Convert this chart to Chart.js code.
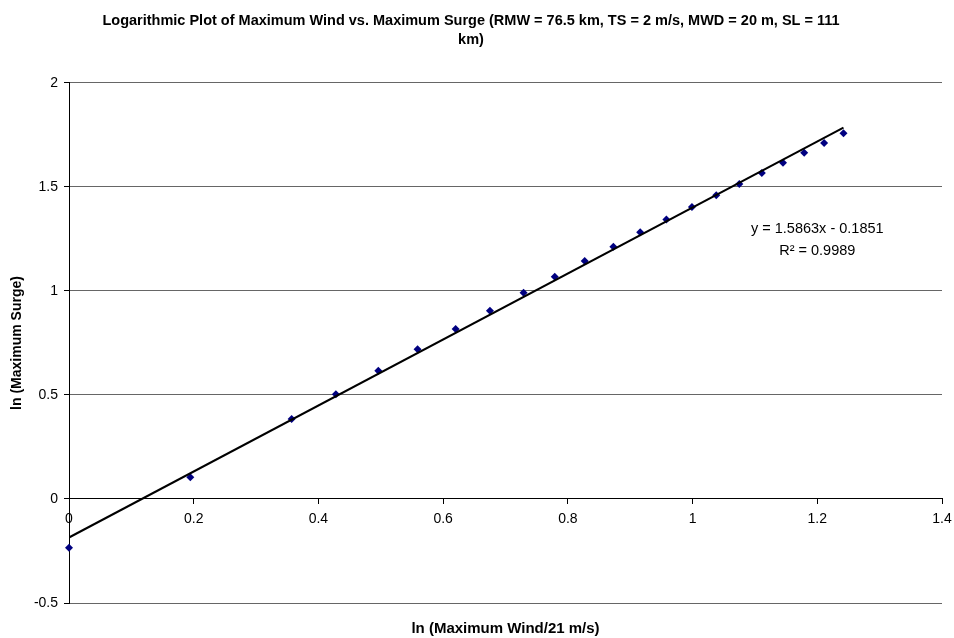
<!DOCTYPE html>
<html>
<head>
<meta charset="utf-8">
<script src="https://cdn.jsdelivr.net/npm/chart.js@4"></script>
<style>
    html, body { margin: 0; padding: 0; background: #fff; }
    #box { width: 954px; height: 638px; }
</style>
</head>
<body>
<div id="box"><canvas id="graficoSurge"></canvas></div>
<script>
// Dados
const lnVento = [0, 0.1945, 0.357, 0.428, 0.496, 0.559, 0.620, 0.675, 0.729, 0.779, 0.827,
    0.873, 0.916, 0.958, 0.999, 1.038, 1.075, 1.111, 1.145, 1.179, 1.211, 1.242];
const lnSurge = [-0.234, 0.104, 0.385, 0.503, 0.617, 0.720, 0.817, 0.905, 0.992, 1.069, 1.144,
    1.213, 1.282, 1.344, 1.404, 1.460, 1.514, 1.567, 1.617, 1.665, 1.712, 1.758];

// Linha de tendência (extremos)
const tendenciaX = [0, 1.242];
const tendenciaY = [-0.1851, 1.7851];

const xTickLabels = ['0', '0.2', '0.4', '0.6', '0.8', '1', '1.2', '1.4'];
const yTickLabels = ['-0.5', '0', '0.5', '1', '1.5', '2'];

const titulo = ['Logarithmic Plot of Maximum Wind vs. Maximum Surge (RMW = 76.5 km, TS = 2 m/s, MWD = 20 m, SL = 111', 'km)'];
const tituloX = 'ln (Maximum Wind/21 m/s)';
const tituloY = 'ln (Maximum Surge)';
const equacao = ['y = 1.5863x - 0.1851', 'R² = 0.9989'];
const equacaoPos = { x: 1.2, y: [1.297, 1.194] };

const fonte = 'Arial, "Liberation Sans", sans-serif';

// Plugin para escrever a equação da tendência
const pluginEquacao = {
    id: 'equacao',
    afterDatasetsDraw(chart) {
        const ctx = chart.ctx;
        const sx = chart.scales.x;
        const sy = chart.scales.y;
        ctx.save();
        ctx.font = '14.5px ' + fonte;
        ctx.fillStyle = '#000';
        ctx.textAlign = 'center';
        ctx.textBaseline = 'middle';
        equacao.forEach((linha, i) => {
            ctx.fillText(linha, sx.getPixelForValue(equacaoPos.x), sy.getPixelForValue(equacaoPos.y[i]));
        });
        ctx.restore();
    }
};

const ctx = document.getElementById('graficoSurge').getContext('2d');

new Chart(ctx, {
    type: 'scatter',
    data: {
        datasets: [{
            label: 'Surge',
            data: lnVento.map((x, i) => ({ x: x, y: lnSurge[i] })),
            pointStyle: 'rectRot',
            pointRadius: 4,
            backgroundColor: '#000080',
            borderColor: '#000080',
            borderWidth: 0,
            clip: false,
            order: 2
        }, {
            label: 'Tendência',
            data: tendenciaX.map((x, i) => ({ x: x, y: tendenciaY[i] })),
            showLine: true,
            pointRadius: 0,
            borderColor: '#000',
            borderWidth: 2,
            order: 1
        }]
    },
    options: {
        responsive: true,
        maintainAspectRatio: false,
        animation: false,
        layout: {
            padding: { left: 0, right: 12, top: 0, bottom: 0 }
        },
        plugins: {
            legend: { display: false },
            tooltip: { enabled: false },
            title: {
                display: true,
                text: titulo,
                color: '#000',
                font: { family: fonte, size: 14.5, weight: 'bold', lineHeight: 1.31 },
                padding: { top: 12, bottom: 33 }
            },
            subtitle: {
                display: true,
                fullSize: false,
                position: 'bottom',
                text: tituloX,
                color: '#000',
                font: { family: fonte, size: 15, weight: 'bold', lineHeight: 1.2 },
                padding: { top: 17, bottom: 0 }
            }
        },
        scales: {
            x: {
                type: 'linear',
                position: { y: 0 },
                min: 0,
                max: 1.4,
                afterFit: (scale) => {
                    scale.paddingLeft = 0;
                    scale.paddingRight = 0;
                },
                ticks: {
                    stepSize: 0.2,
                    color: '#000',
                    font: { family: fonte, size: 14 },
                    padding: 7,
                    maxRotation: 0,
                    callback: (v, i) => xTickLabels[i]
                },
                grid: {
                    drawOnChartArea: false,
                    tickLength: 5,
                    tickColor: '#000'
                },
                border: { color: '#000' }
            },
            y: {
                type: 'linear',
                position: 'left',
                min: -0.5,
                max: 2,
                afterFit: (scale) => { scale.width = 69; },
                ticks: {
                    stepSize: 0.5,
                    color: '#000',
                    font: { family: fonte, size: 14 },
                    padding: 6,
                    callback: (v, i) => yTickLabels[i]
                },
                grid: {
                    color: '#666',
                    tickLength: 5,
                    tickColor: '#000'
                },
                border: { color: '#000' },
                title: {
                    display: true,
                    text: tituloY,
                    color: '#000',
                    font: { family: fonte, size: 14, weight: 'bold' },
                    padding: { top: 9, bottom: 0 }
                }
            }
        }
    },
    plugins: [pluginEquacao]
});
</script>
</body>
</html>
